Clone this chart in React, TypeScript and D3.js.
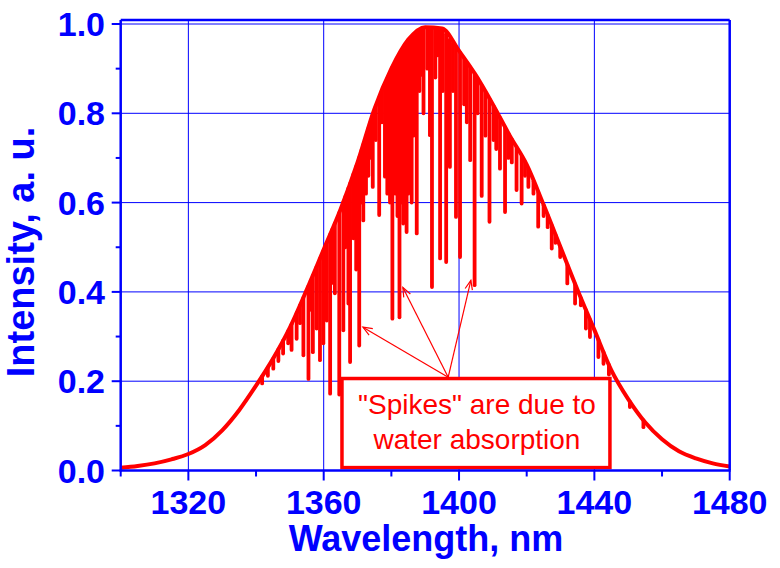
import * as d3 from 'd3'

// axis ticks
const xMajor = [1320, 1360, 1400, 1440, 1480]
const xMinor = [1300, 1340, 1380, 1420, 1460]
const yMajor = [0, 0.2, 0.4, 0.6, 0.8, 1.0]
const yMinor = [0.1, 0.3, 0.5, 0.7, 0.9]
const xGrid = [1320, 1360, 1400, 1440]
const yGrid = [0.2, 0.4, 0.6, 0.8, 1.0]

// smooth envelope of the spectrum (wavelength nm, intensity)
const envWl = [1300, 1305, 1310, 1315, 1320, 1325, 1330, 1335, 1340, 1345, 1350, 1355, 1360, 1365, 1370, 1375, 1380, 1385, 1390, 1395,
  1400, 1405, 1410, 1415, 1420, 1425, 1430, 1435, 1440, 1445, 1450, 1455, 1460, 1465, 1470, 1475, 1480]
const envVal = [0.006, 0.010, 0.016, 0.025, 0.037, 0.057, 0.090, 0.135, 0.190, 0.250, 0.320, 0.405, 0.495, 0.585, 0.690, 0.810, 0.900, 0.965, 0.993, 0.990,
  0.940, 0.885, 0.820, 0.750, 0.685, 0.595, 0.500, 0.405, 0.315, 0.225, 0.160, 0.108, 0.070, 0.043, 0.027, 0.016, 0.009]

// water absorption lines: [wavelength, minimum intensity]
const spikes: [number, number][] = [
  [1341.8, 0.195], [1343.5, 0.212], [1345.1, 0.228], [1346.6, 0.245], [1348.0, 0.262], [1349.5, 0.285],
  [1350.5, 0.270], [1352.0, 0.295], [1353.0, 0.330], [1354.0, 0.258], [1355.5, 0.205], [1356.2, 0.36],
  [1356.8, 0.265], [1357.9, 0.318], [1358.9, 0.247], [1359.9, 0.285], [1360.9, 0.336], [1361.9, 0.172],
  [1362.6, 0.42], [1363.3, 0.397], [1364.6, 0.170], [1365.8, 0.314], [1366.4, 0.50], [1367.3, 0.374],
  [1367.8, 0.243], [1368.8, 0.52], [1369.6, 0.45], [1370.5, 0.280], [1371.2, 0.60], [1371.7, 0.56],
  [1372.5, 0.62], [1373.2, 0.66], [1373.7, 0.70], [1374.5, 0.635], [1375.4, 0.74], [1376.4, 0.572],
  [1377.2, 0.78], [1378.1, 0.658], [1378.8, 0.62], [1379.6, 0.60], [1380.3, 0.340], [1381.2, 0.62],
  [1381.8, 0.57], [1382.4, 0.343], [1383.0, 0.60], [1383.5, 0.553], [1384.5, 0.534], [1385.0, 0.62],
  [1385.5, 0.80], [1386.0, 0.60], [1386.5, 0.750], [1387.5, 0.531], [1388.3, 0.85], [1389.0, 0.886],
  [1389.5, 0.800], [1390.6, 0.90], [1391.4, 0.751], [1392.0, 0.411], [1393.0, 0.88], [1393.7, 0.93],
  [1394.4, 0.475], [1395.2, 0.85], [1396.2, 0.467], [1397.3, 0.680], [1398.2, 0.85], [1399.1, 0.568],
  [1400.3, 0.478], [1401.5, 0.82], [1402.3, 0.78], [1403.3, 0.695], [1404.6, 0.415], [1405.5, 0.80],
  [1406.7, 0.615], [1407.8, 0.75], [1409.0, 0.557], [1410.2, 0.74], [1411.0, 0.72], [1412.1, 0.676],
  [1413.6, 0.579], [1414.6, 0.70], [1415.6, 0.690], [1417.0, 0.628], [1418.5, 0.598], [1419.5, 0.66],
  [1420.5, 0.635], [1422.0, 0.62], [1423.4, 0.546], [1425.0, 0.57], [1426.2, 0.545], [1427.4, 0.497],
  [1428.5, 0.51], [1429.9, 0.478], [1432.0, 0.419], [1434.3, 0.374], [1436.0, 0.37], [1437.5, 0.318],
  [1438.7, 0.299], [1441.2, 0.254], [1442.7, 0.239], [1444.3, 0.215], [1450.5, 0.142], [1454.5, 0.097],
]

// annotation in data units
const noteBox = { x0: 1365.4, x1: 1444.6, y0: 0.0065, y1: 0.206 }
const noteLines = ['"Spikes" are due to', 'water absorption']
const arrowFrom: [number, number] = [1396.8, 0.209]
const arrowTo: [number, number][] = [[1371.6, 0.321], [1383.4, 0.410], [1403.5, 0.426]]

const BLUE = '#0000ff'
const RED = '#ff0000'
const FONT = '"Liberation Sans", Arial, sans-serif'

export default function App() {
  const W = 780, H = 568
  const x = d3.scaleLinear().domain([1300, 1480]).range([120.7, 729.7])
  const y = d3.scaleLinear().domain([0, 1]).range([470.5, 24])
  const top = y(1) - 4
  const envAt = d3.scaleLinear().domain(envWl).range(envVal)

  const envPts = envWl.map((w, i) => [w, envVal[i]] as [number, number])
  const line = d3.line<[number, number]>()
    .x(d => x(d[0]))
    .y(d => y(d[1]))
    .curve(d3.curveMonotoneX)

  const arrowHead = (fx: number, fy: number, tx: number, ty: number) => {
    const a = Math.atan2(ty - fy, tx - fx)
    const L = 10, s = 0.38
    const p1 = [tx - L * Math.cos(a - s), ty - L * Math.sin(a - s)]
    const p2 = [tx - L * Math.cos(a + s), ty - L * Math.sin(a + s)]
    return `M${p1[0]},${p1[1]}L${tx},${ty}L${p2[0]},${p2[1]}`
  }

  return (
    <svg width={W} height={H} style={{ position: 'absolute', left: 0, top: 0, background: '#fff' }}
      fontFamily={FONT}>
      {/* grid */}
      {xGrid.map(v => (
        <line key={'gx' + v} x1={x(v)} x2={x(v)} y1={top} y2={y(0)} stroke={BLUE} strokeWidth={1} />
      ))}
      {yGrid.map(v => (
        <line key={'gy' + v} x1={x(1300)} x2={x(1480)} y1={y(v)} y2={y(v)} stroke={BLUE} strokeWidth={1} />
      ))}

      {/* annotation box */}
      <rect x={x(noteBox.x0)} y={y(noteBox.y1)} width={x(noteBox.x1) - x(noteBox.x0)}
        height={y(noteBox.y0) - y(noteBox.y1)} fill="#fff" stroke={RED} strokeWidth={3.5} />
      {noteLines.map((t, i) => (
        <text key={t} x={(x(noteBox.x0) + x(noteBox.x1)) / 2 + 1} y={y(noteBox.y1) + 35 + i * 35}
          textAnchor="middle" fontSize={28} fill={RED}>{t}</text>
      ))}

      {/* arrows */}
      {arrowTo.map((t, i) => {
        const fx = x(arrowFrom[0]), fy = y(arrowFrom[1]), tx = x(t[0]), ty = y(t[1])
        return (
          <g key={'ar' + i} stroke={RED} fill="none" strokeWidth={1.2}>
            <line x1={fx} y1={fy} x2={tx} y2={ty} />
            <path d={arrowHead(fx, fy, tx, ty)} />
          </g>
        )
      })}

      {/* spectrum */}
      <path d={line(envPts)!} fill="none" stroke={RED} strokeWidth={4} strokeLinejoin="round" />
      {spikes.map(([w, v], i) => (
        <line key={'sp' + i} x1={x(w)} x2={x(w)} y1={y(envAt(w)) + 0.5} y2={y(v)}
          stroke={RED} strokeWidth={3.8} strokeLinecap="round" />
      ))}

      {/* frame and axes */}
      <line x1={x(1300)} x2={x(1480)} y1={top} y2={top} stroke={BLUE} strokeWidth={2.5} />
      <line x1={x(1480)} x2={x(1480)} y1={top} y2={y(0)} stroke={BLUE} strokeWidth={2.5} />
      <line x1={x(1300)} x2={x(1300)} y1={top} y2={y(0) + 1} stroke={BLUE} strokeWidth={2.5} />
      <line x1={x(1300) - 1} x2={x(1480) + 1} y1={y(0)} y2={y(0)} stroke={BLUE} strokeWidth={2.5} />

      {yMajor.map(v => (
        <g key={'yt' + v}>
          <line x1={x(1300) - 9} x2={x(1300)} y1={y(v)} y2={y(v)} stroke={BLUE} strokeWidth={2} />
          <text x={105} y={y(v) + 12} textAnchor="end" fontSize={34} fontWeight="bold" fill={BLUE}>
            {v.toFixed(1)}
          </text>
        </g>
      ))}
      {yMinor.map(v => (
        <line key={'ym' + v} x1={x(1300) - 5} x2={x(1300)} y1={y(v)} y2={y(v)} stroke={BLUE} strokeWidth={2} />
      ))}
      {xMajor.map(v => (
        <g key={'xt' + v}>
          <line x1={x(v)} x2={x(v)} y1={y(0)} y2={y(0) + 10} stroke={BLUE} strokeWidth={2} />
          <text x={x(v)} y={514} textAnchor="middle" fontSize={34} fontWeight="bold" fill={BLUE}>{v}</text>
        </g>
      ))}
      {xMinor.map(v => (
        <line key={'xm' + v} x1={x(v)} x2={x(v)} y1={y(0)} y2={y(0) + 6} stroke={BLUE} strokeWidth={2} />
      ))}

      {/* axis titles */}
      <text x={426} y={551} textAnchor="middle" fontSize={36} fontWeight="bold" fill={BLUE}>Wavelength, nm</text>
      <text transform="translate(34,252) rotate(-90)" textAnchor="middle" fontSize={38} fontWeight="bold"
        fill={BLUE}>Intensity, a. u.</text>
    </svg>
  )
}
